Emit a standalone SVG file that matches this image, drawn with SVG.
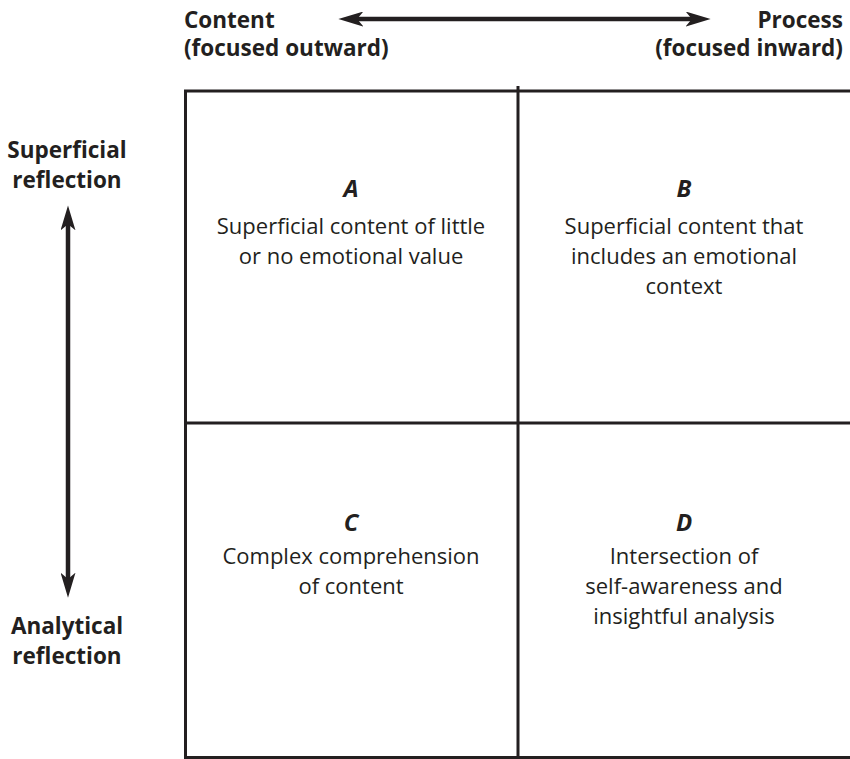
<svg xmlns="http://www.w3.org/2000/svg" width="850" height="759" viewBox="0 0 850 759">
<style>
text{font-family:"Open Sans","Noto Sans","Liberation Sans",sans-serif;fill:#231f20}
.h{font-weight:bold;font-size:22.5px}
.q{font-size:22px;text-anchor:middle}
.l{font-size:24px;font-weight:bold;font-style:italic;text-anchor:middle}
.g{stroke:#231f20;stroke-width:3;fill:none}
.a{stroke:#231f20;stroke-width:4.5;marker-start:url(#ah);marker-end:url(#ah)}
</style>
<defs>
<marker id="ah" viewBox="0 0 10 10" refX="3.75" refY="5" markerWidth="25" markerHeight="15" markerUnits="userSpaceOnUse" orient="auto-start-reverse" preserveAspectRatio="none">
<path d="M0,0 L10,5 L0,10 L2.5,5 Z" fill="#231f20"/>
</marker>
</defs>
<g id="labels">
<text class="h" x="184" y="28">Content</text>
<text class="h" x="184" y="56">(focused outward)</text>
<text class="h" x="843" y="28" text-anchor="end">Process</text>
<text class="h" x="843" y="56" text-anchor="end">(focused inward)</text>
<text class="h" x="67" y="158" text-anchor="middle">Superficial</text>
<text class="h" x="67" y="188" text-anchor="middle">reflection</text>
<text class="h" x="67" y="634" text-anchor="middle">Analytical</text>
<text class="h" x="67" y="664" text-anchor="middle">reflection</text>
</g>
<g id="connectors">
<line class="a" x1="354" y1="19" x2="695" y2="19"/>
<line class="a" x1="68" y1="221" x2="68" y2="582"/>
</g>
<g id="grid">
<path class="g" d="M184,91 H850 M184,423 H850 M184,757.5 H850 M185.5,90 V759 M518,86 V759"/>
</g>
<g id="A">
<text class="l" x="351" y="197">A</text>
<text class="q" x="351" y="234">Superficial content of little</text>
<text class="q" x="351" y="264">or no emotional value</text>
</g>
<g id="B">
<text class="l" x="684" y="197">B</text>
<text class="q" x="684" y="234">Superficial content that</text>
<text class="q" x="684" y="264">includes an emotional</text>
<text class="q" x="684" y="294">context</text>
</g>
<g id="C">
<text class="l" x="351" y="531">C</text>
<text class="q" x="351" y="564">Complex comprehension</text>
<text class="q" x="351" y="594">of content</text>
</g>
<g id="D">
<text class="l" x="684" y="531">D</text>
<text class="q" x="684" y="564">Intersection of</text>
<text class="q" x="684" y="594">self-awareness and</text>
<text class="q" x="684" y="624">insightful analysis</text>
</g>
</svg>
